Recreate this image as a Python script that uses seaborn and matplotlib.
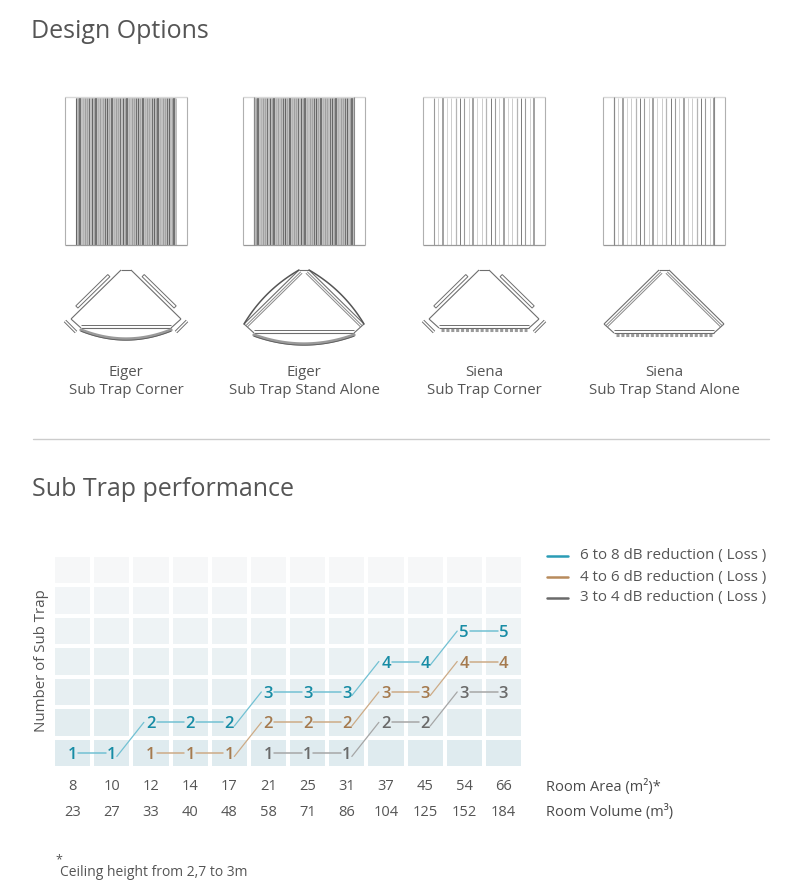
import numpy as np
import matplotlib.pyplot as plt
import seaborn as sns
from matplotlib.colors import LinearSegmentedColormap
from matplotlib.patches import Rectangle, Polygon
from matplotlib.transforms import blended_transform_factory

# data: room sizes (one column each) and number of sub traps per series
room_area = [8, 10, 12, 14, 17, 21, 25, 31, 37, 45, 54, 66]
room_volume = [23, 27, 33, 40, 48, 58, 71, 86, 104, 125, 152, 184]
traps_6_8 = [1, 1, 2, 2, 2, 3, 3, 3, 4, 4, 5, 5]
traps_4_6 = [np.nan, np.nan, 1, 1, 1, 2, 2, 2, 3, 3, 4, 4]
traps_3_4 = [np.nan, np.nan, np.nan, np.nan, np.nan, 1, 1, 1, 2, 2, 3, 3]
series_names = ['6 to 8 dB reduction ( Loss )', '4 to 6 dB reduction ( Loss )',
                '3 to 4 dB reduction ( Loss )']
products = ['Eiger', 'Eiger', 'Siena', 'Siena']
models = ['Sub Trap Corner', 'Sub Trap Stand Alone', 'Sub Trap Corner', 'Sub Trap Stand Alone']
n_rows = 7

sns.set_theme(style='white')
plt.rcParams['font.family'] = ['Open Sans', 'DejaVu Sans']
txt = '#555555'

fig = plt.figure(figsize=(8.09, 8.84), dpi=100)
# full page axes in pixel units for the decorations
ax0 = fig.add_axes([0, 0, 1, 1])
ax0.set_xlim(0, 809)
ax0.set_ylim(884, 0)
ax0.axis('off')

ax0.text(31, 31, 'Design Options', fontsize=18, color=txt, va='center')
ax0.text(32, 489, 'Sub Trap performance', fontsize=18, color=txt, va='center')
ax0.plot([33, 769], [439, 439], color='#cccccc', lw=1)


def seg(p, q, **kw):
    ax0.plot([p[0], q[0]], [p[1], q[1]], solid_capstyle='butt', **kw)


def front_panel(x0, dark, stand_alone):
    x1, y0, y1 = x0 + 122, 97, 245
    xi0, xi1 = x0 + 11, x1 - 11
    if dark:
        ax0.add_patch(Rectangle((xi0, y0), xi1 - xi0, y1 - y0, color='#c2c2c2', lw=0))
    n = 46 if dark else 24
    widths = [0.8, 0.5, 1.1, 0.6, 0.4, 0.9, 0.7]
    shades = ['#666666', '#9a9a9a', '#5a5a5a', '#b2b2b2', '#858585', '#a5a5a5', '#707070'] if dark \
        else ['#9a9a9a', '#c0c0c0', '#888888', '#cfcfcf', '#a8a8a8', '#b5b5b5', '#7a7a7a']
    for k, x in enumerate(np.linspace(xi0, xi1, n)):
        seg((x, y0 + 1), (x, y1), color=shades[k % 7], lw=widths[k % 7])
    seg((x0, y0), (x1, y0), color='#d8d8d8', lw=1)
    seg((x0, y1), (x1, y1), color='#9a9a9a', lw=0.9)
    seg((x0, y0), (x0, y1), color='#b0b0b0', lw=0.8)
    seg((x1, y0), (x1, y1), color='#b0b0b0', lw=0.8)
    if stand_alone:
        seg((xi0, y0), (xi0, y1), color='#888888', lw=0.8)
        seg((xi1, y0), (xi1, y1), color='#888888', lw=0.8)


def offset(p, q, d):
    v = np.array(q, float) - np.array(p, float)
    nrm = np.array([-v[1], v[0]]) / np.hypot(*v)
    return tuple(np.array(p) + d * nrm), tuple(np.array(q) + d * nrm)


def top_view(cx, stand_alone, curved):
    lc = '#6e6e6e'
    half = 60 if stand_alone else 55
    ay, ty = 270, 270 + half - 6
    by = ty + 9
    apl, apr = (cx - 5, ay), (cx + 5, ay)
    tl, tr = (cx - half, ty), (cx + half, ty)
    bl, br = (cx - half + 10, by), (cx + half - 10, by)
    seg(apl, apr, color=lc, lw=0.8)
    seg(apl, tl, color=lc, lw=0.8)
    seg(apr, tr, color=lc, lw=0.8)
    seg(tl, bl, color=lc, lw=0.8)
    seg(tr, br, color=lc, lw=0.8)
    seg(bl, br, color=lc, lw=0.8)
    seg((bl[0], by - 3), (br[0], by - 3), color=lc, lw=0.7)
    if stand_alone:
        for p, q, s in [(apl, tl, 1), (apr, tr, -1)]:
            for d in (-2.5, -4.5):
                a, b = offset(p, q, s * d)
                seg(a, b, color='#888888', lw=0.7)
            if curved:
                t = np.linspace(0, 1, 30)
                a, b = offset(p, q, s * 10)
                ctrl = np.array(a) / 2 + np.array(b) / 2
                pts = np.outer((1 - t) ** 2, p) + np.outer(2 * t * (1 - t), ctrl) + np.outer(t ** 2, q)
                ax0.plot(pts[:, 0], pts[:, 1], color='#555555', lw=1.1)
    else:
        for p, q, s in [(apl, tl, 1), (apr, tr, -1)]:
            p2 = np.array(p) + 0.18 * (np.array(q) - np.array(p))
            q2 = np.array(p) + 0.82 * (np.array(q) - np.array(p))
            a, b = offset(p2, q2, s * 3)
            c, d = offset(p2, q2, s * 6)
            ax0.add_patch(Polygon([a, b, d, c], closed=True, fill=False, ec=lc, lw=0.7))
        for p, s in [(tl, 1), (tr, -1)]:
            a = (p[0] - s * 6, p[1] + 2)
            b = (p[0] + s * 5, p[1] + 13)
            seg(a, b, color=lc, lw=2.4)
            seg(a, b, color='white', lw=1.0)
    if curved:
        t = np.linspace(-1, 1, 40)
        xs = cx + t * (half - 10)
        ys = by + 2 + 9 * (1 - t ** 2)
        ax0.plot(xs, ys, color='#9a9a9a', lw=2.4)
        ax0.plot(xs, ys + 1.2, color='#5a5a5a', lw=0.6)
    else:
        seg((bl[0] + 2, by + 2), (br[0] - 2, by + 2), color='#9a9a9a', lw=2.2, ls=(0, (1, 0.6)))


panel_x = [65, 243, 423, 603]
for k in range(4):
    cx = panel_x[k] + 61
    front_panel(panel_x[k], dark=(k < 2), stand_alone=(k % 2 == 1))
    top_view(cx, stand_alone=(k % 2 == 1), curved=(k < 2))
    ax0.text(cx, 373, products[k], fontsize=10.8, color=txt, ha='center', va='center')
    ax0.text(cx, 391, models[k], fontsize=10.8, color=txt, ha='center', va='center')

# performance chart
ax = fig.add_axes([53 / 809, 1 - 768 / 884, 470 / 809, 213 / 884])
levels = np.tile(np.linspace(1, 0, n_rows)[:, None], (1, len(room_area)))
cmap = LinearSegmentedColormap.from_list('bg', ['#f6f7f8', '#dfebef'])
sns.heatmap(levels, ax=ax, cmap=cmap, cbar=False, vmin=0, vmax=1,
            linewidths=1.5, linecolor='white')
ax.set_ylim(0, n_rows)
ax.set_xticks([])
ax.set_yticks([])
ax.patch.set_alpha(0)

digit_colors = ['#178ca5', '#a57a4e', '#6a6a6a']
line_colors = ['#72c1d3', '#cdab86', '#a6a6a6']
legend_colors = ['#2a9cb5', '#b88b5c', '#6a6a6a']
for vals, dc, lcol in zip([traps_6_8, traps_4_6, traps_3_4], digit_colors, line_colors):
    for i, v in enumerate(vals):
        if np.isnan(v):
            continue
        ax.text(i + 0.5, v - 0.5, f'{int(v)}', color=dc, fontsize=12, fontweight='semibold',
                ha='center', va='center_baseline')
        if i + 1 < len(vals) and not np.isnan(vals[i + 1]):
            w = vals[i + 1]
            if w == v:
                ax.plot([i + 0.65, i + 1.35], [v - 0.5, v - 0.5], color=lcol, lw=1.1)
            else:
                ax.plot([i + 0.63, i + 1.32], [v - 0.62, w - 0.5], color=lcol, lw=0.9)

ax0.text(42, 661, 'Number of Sub Trap', rotation=90, fontsize=10.8, color=txt,
         ha='center', va='center')

trans = blended_transform_factory(ax.transData, ax0.transData)
for i, (a, vlm) in enumerate(zip(room_area, room_volume)):
    ax0.text(i + 0.5, 787, str(a), transform=trans, fontsize=10.5, color=txt, ha='center', va='center')
    ax0.text(i + 0.5, 812, str(vlm), transform=trans, fontsize=10.5, color=txt, ha='center', va='center')
ax0.text(546, 787, 'Room Area (m²)*', fontsize=10.5, color='#4a4a4a', va='center')
ax0.text(546, 812, 'Room Volume (m³)', fontsize=10.5, color='#4a4a4a', va='center')

for k, (name, c) in enumerate(zip(series_names, legend_colors)):
    y = 556 + 21 * k
    ax0.plot([547, 568], [y, y], color=c, lw=1.8)
    ax0.text(580, y, name, fontsize=10.9, color=txt, va='center')

ax0.text(55, 860, '*', fontsize=9, color=txt, va='center')
ax0.text(60, 872, 'Ceiling height from 2,7 to 3m', fontsize=10, color=txt, va='center')

fig.savefig('out.png', dpi=100)
